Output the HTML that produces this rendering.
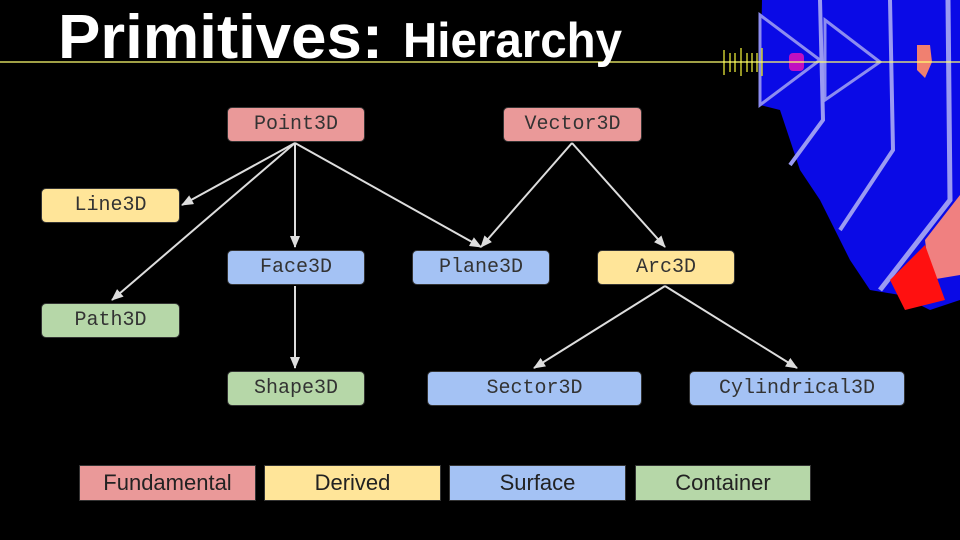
<!DOCTYPE html>
<html><head><meta charset="utf-8"><style>
html,body{margin:0;padding:0;background:#000;}
body{width:960px;height:540px;overflow:hidden;position:relative;}
.b{position:absolute;box-sizing:border-box;border:1.5px solid #333;border-radius:5px;font-family:"Liberation Mono",monospace;font-size:20px;color:#333;display:flex;align-items:center;justify-content:center;}
.r{background:#ea9999}.y{background:#ffe599}.bl{background:#a4c2f4}.g{background:#b6d7a8}
.l{position:absolute;box-sizing:border-box;border:1.5px solid #333;font-family:"Liberation Sans",sans-serif;font-size:22px;color:#222;display:flex;align-items:center;justify-content:center;top:465px;height:36px;}
</style></head><body>
<svg width="960" height="540" style="position:absolute;left:0;top:0">
<defs><marker id="a" markerWidth="12" markerHeight="10" refX="11" refY="5" orient="auto" markerUnits="userSpaceOnUse"><path d="M0,0 L12,5 L0,10 z" fill="#ddd"/></marker></defs>
<g>
<polygon points="762,0 960,0 960,300 930,310 900,295 870,290 850,260 820,200 800,170 780,110 760,105" fill="#0a0ae6"/>
<polygon points="760,15 820,60 760,105" fill="none" stroke="#8c8cf0" stroke-width="3"/>
<polygon points="825,20 880,62 825,100" fill="none" stroke="#8c8cf0" stroke-width="3"/>
<polyline points="820,0 823,120 790,165" fill="none" stroke="#9a9af2" stroke-width="4"/>
<polyline points="890,0 893,150 840,230" fill="none" stroke="#9a9af2" stroke-width="4"/>
<polyline points="948,0 950,200 880,290" fill="none" stroke="#9a9af2" stroke-width="5"/>
<polygon points="925,240 960,195 960,275 930,280" fill="#f08080"/>
<polygon points="890,280 925,245 945,300 905,310" fill="#ff1010"/>
<polygon points="917,45 930,45 932,62 925,78 917,70" fill="#f08070"/>
<rect x="789" y="53" width="15" height="18" rx="4" fill="#c010c0"/>
<g stroke="#c8c830" stroke-width="1.5"><line x1="724" y1="50" x2="724" y2="75"/><line x1="730" y1="53" x2="730" y2="72"/><line x1="735" y1="53" x2="735" y2="72"/><line x1="741" y1="48" x2="741" y2="76"/><line x1="747" y1="53" x2="747" y2="72"/><line x1="752" y1="53" x2="752" y2="72"/><line x1="757" y1="53" x2="757" y2="72"/><line x1="762" y1="48" x2="762" y2="76"/></g>
</g>
<line x1="0" y1="62" x2="960" y2="62" stroke="#ffff70" stroke-width="1.2"/>
<text x="58" y="58" font-family="Liberation Sans,sans-serif" font-weight="bold" font-size="62" fill="#fff" textLength="325" lengthAdjust="spacingAndGlyphs">Primitives:</text>
<text x="403" y="57" font-family="Liberation Sans,sans-serif" font-weight="bold" font-size="49" fill="#fff" textLength="219" lengthAdjust="spacingAndGlyphs">Hierarchy</text>
<g stroke="#ddd" stroke-width="2" fill="none" marker-end="url(#a)">
<line x1="295" y1="143" x2="182" y2="205"/>
<line x1="295" y1="143" x2="112" y2="300"/>
<line x1="295" y1="143" x2="295" y2="247"/>
<line x1="295" y1="143" x2="481" y2="247"/>
<line x1="572" y1="143" x2="481" y2="247"/>
<line x1="572" y1="143" x2="665" y2="247"/>
<line x1="295" y1="286" x2="295" y2="368"/>
<line x1="665" y1="286" x2="534" y2="368"/>
<line x1="665" y1="286" x2="797" y2="368"/>
</g>
</svg>
<div class="b r" style="left:227px;top:107px;width:138px;height:35px">Point3D</div>
<div class="b r" style="left:503px;top:107px;width:139px;height:35px">Vector3D</div>
<div class="b y" style="left:41px;top:188px;width:139px;height:35px">Line3D</div>
<div class="b bl" style="left:227px;top:250px;width:138px;height:35px">Face3D</div>
<div class="b bl" style="left:412px;top:250px;width:138px;height:35px">Plane3D</div>
<div class="b y" style="left:597px;top:250px;width:138px;height:35px">Arc3D</div>
<div class="b g" style="left:41px;top:303px;width:139px;height:35px">Path3D</div>
<div class="b g" style="left:227px;top:371px;width:138px;height:35px">Shape3D</div>
<div class="b bl" style="left:427px;top:371px;width:215px;height:35px">Sector3D</div>
<div class="b bl" style="left:689px;top:371px;width:216px;height:35px">Cylindrical3D</div>
<div class="l r" style="left:79px;width:177px">Fundamental</div>
<div class="l y" style="left:264px;width:177px">Derived</div>
<div class="l bl" style="left:449px;width:177px">Surface</div>
<div class="l g" style="left:635px;width:176px">Container</div>
</body></html>
